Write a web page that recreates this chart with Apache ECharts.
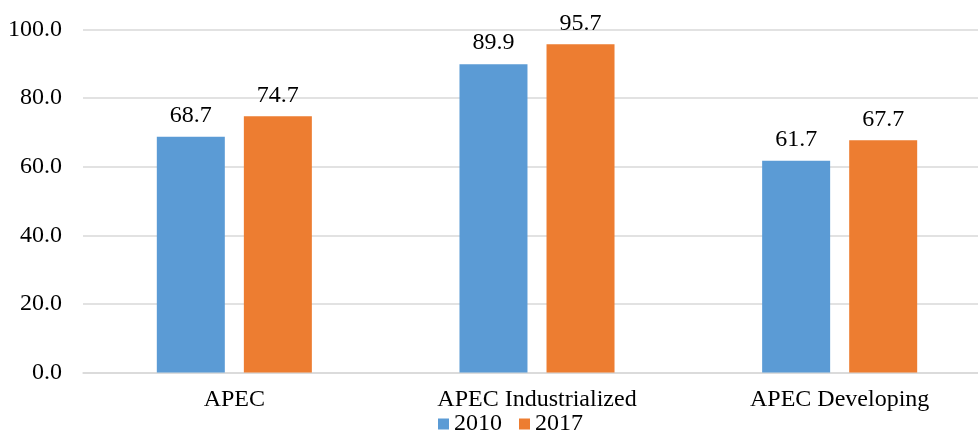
<!DOCTYPE html>
<html><head><meta charset="utf-8">
<script src="https://cdn.jsdelivr.net/npm/echarts@6/dist/echarts.min.js"></script>
<style>html,body{margin:0;padding:0;background:#fff;overflow:hidden}#c{width:1000px;height:432px}</style>
</head><body><div id="c"></div>
<script>
const categories = ['APEC', 'APEC Industrialized', 'APEC Developing'];
const values2010 = [68.7, 89.9, 61.7];
const values2017 = [74.7, 95.7, 67.7];
const seriesNames = ['2010', '2017'];

const FONT = '"Liberation Serif", "Times New Roman", serif';
const chart = echarts.init(document.getElementById('c'));
const labelStyle = {show: true, position: 'top', distance: 9, fontFamily: FONT, fontSize: 24, color: '#000',
  formatter: p => p.value.toFixed(1)};
chart.setOption({
  animation: false,
  textStyle: {fontFamily: FONT},
  grid: {left: 83, top: 29.5, width: 908, height: 343, containLabel: false},
  legend: {
    data: seriesNames, left: 433, top: 407, itemWidth: 11, itemHeight: 11, itemGap: 17,
    icon: 'rect', textStyle: {fontFamily: FONT, fontSize: 24, color: '#000'}
  },
  xAxis: {
    type: 'category', data: categories,
    axisLine: {lineStyle: {color: '#d9d9d9', width: 1.5}},
    axisTick: {show: false},
    axisLabel: {fontFamily: FONT, fontSize: 24, color: '#000', margin: 15}
  },
  yAxis: {
    type: 'value', min: 0, max: 100, interval: 20,
    axisLine: {show: false}, axisTick: {show: false},
    splitLine: {lineStyle: {color: '#d9d9d9', width: 1.5}},
    axisLabel: {fontFamily: FONT, fontSize: 24, color: '#000', margin: 21, formatter: v => v.toFixed(1)}
  },
  series: [
    {name: seriesNames[0], type: 'bar', data: values2010, barWidth: 68, barGap: '28%',
     itemStyle: {color: '#5B9BD5'}, label: labelStyle},
    {name: seriesNames[1], type: 'bar', data: values2017, barWidth: 68,
     itemStyle: {color: '#ED7D31'}, label: labelStyle}
  ]
});
</script></body></html>
